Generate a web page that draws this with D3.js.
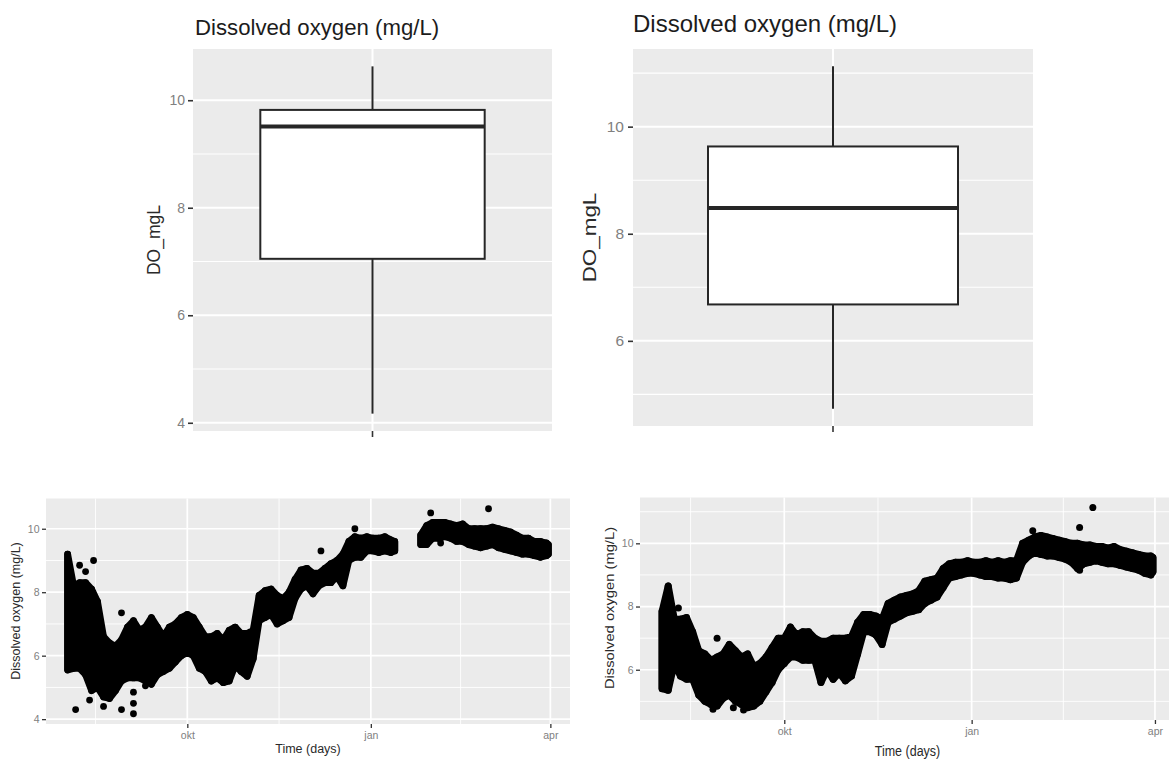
<!DOCTYPE html>
<html>
<head>
<meta charset="utf-8">
<script src="https://cdn.jsdelivr.net/npm/d3@7"></script>
<style>
  body { margin: 0; background: #ffffff; }
  svg { display: block; }
  text { font-family: "Liberation Sans", Arial, sans-serif; }
</style>
</head>
<body>
<svg id="chart" width="1169" height="760"></svg>
<script>
// ---- data ---------------------------------------------------------------
// Boxplot summaries (lower whisker, Q1, median, Q3, upper whisker), mg/L
const boxStatsA = [4.17, 7.05, 9.51, 9.82, 10.63];
const boxStatsB = [4.73, 6.68, 8.48, 9.63, 11.13];

// Time series: day offset from 1 Oct 2018, lowest and highest reading in that window
const daysA = [-60,-57,-54,-51,-48,-45,-42,-39,-36,-33,-30,-27,-24,-21,-18,-15,-12,-9,-6,-3,
  0,3,6,9,12,15,18,21,24,27,30,33,36,39,42,45,48,51,54,57,60,63,66,69,72,75,78,81,84,87,
  90,93,96,99,102,104,117,120,123,126,129,132,135,138,141,144,147,150,153,156,159,162,165,
  168,171,174,177,180,181];
const lowA = [5.55,5.6,5.6,5.4,4.9,5.0,4.7,4.65,4.9,5.2,5.3,5.3,5.3,5.2,5.1,5.4,5.5,5.6,5.8,6.0,
  6.1,6.0,5.6,5.5,5.2,5.3,5.15,5.2,5.7,5.5,5.35,5.9,7.1,7.2,7.3,7.0,7.1,7.2,7.8,8.1,8.2,7.95,
  8.2,8.3,8.3,8.5,8.2,9.0,9.1,9.1,9.3,9.3,9.25,9.3,9.25,9.3,9.5,9.5,9.7,9.7,9.75,9.7,9.6,9.6,
  9.5,9.45,9.4,9.45,9.5,9.4,9.35,9.3,9.25,9.2,9.2,9.15,9.1,9.15,9.2];
const highA = [9.2,8.2,8.3,8.3,8.1,7.7,6.6,6.4,6.3,6.5,6.9,7.1,6.8,6.9,7.2,6.9,6.6,6.9,7.0,7.2,
  7.3,7.2,6.9,6.6,6.6,6.7,6.5,6.8,6.9,6.7,6.7,6.8,7.9,8.05,8.1,7.9,7.8,8.0,8.4,8.7,8.75,8.6,
  8.6,8.75,8.9,9.0,9.2,9.6,9.75,9.7,9.75,9.7,9.7,9.75,9.65,9.6,9.8,10.1,10.2,10.2,10.2,10.15,
  10.1,10.15,10.0,10.0,10.0,10.0,10.05,10.0,9.95,9.9,9.8,9.7,9.7,9.6,9.6,9.55,9.5];
// isolated readings outside the dense band: [day offset, mg/L]
const singlesA = [[-56,4.3],[-54,8.85],[-51,8.65],[-49,4.6],[-47,9.0],[-42,4.4],[-33,7.35],
  [-33,4.3],[-27,4.85],[-27,4.5],[-27,4.17],[-21,5.05],[67,9.3],[84,10.0],[122,10.5],
  [127,9.55],[151,10.63]];

const daysB = [-60,-57,-54,-51,-48,-45,-42,-39,-36,-33,-30,-27,-24,-21,-18,-15,-12,-9,-6,-3,
  0,3,6,9,12,15,18,21,24,27,30,33,36,39,42,45,48,51,54,57,60,63,66,69,72,75,78,81,84,87,
  90,93,96,99,102,105,108,111,114,117,120,123,126,129,132,135,138,141,144,147,150,153,156,
  159,162,165,168,171,174,177,180,181];
const lowB = [5.4,5.35,6.2,5.8,5.7,5.7,5.2,5.0,4.9,4.85,5.1,5.2,5.0,4.9,4.8,4.85,5.0,5.3,5.6,6.0,
  6.2,6.4,6.4,6.3,6.3,6.3,5.6,6.0,5.7,5.9,5.65,5.8,6.5,7.2,7.2,7.1,6.8,7.5,7.6,7.7,7.8,7.85,
  7.9,8.1,8.2,8.3,8.6,8.9,8.95,9.0,9.05,9.05,9.0,8.95,8.95,8.9,8.9,8.85,8.9,9.4,9.6,9.7,9.65,
  9.6,9.6,9.55,9.5,9.4,9.2,9.35,9.4,9.45,9.4,9.35,9.35,9.3,9.25,9.2,9.15,9.05,9.0,9.1];
const highB = [7.85,8.65,7.6,7.6,7.65,7.2,6.6,6.5,6.3,6.4,6.5,6.8,6.6,6.4,6.5,6.1,6.2,6.4,6.7,7.0,
  7.0,7.35,7.1,7.2,7.2,7.0,6.9,6.9,7.0,7.0,7.0,7.05,7.5,7.75,7.75,7.7,7.6,8.1,8.2,8.3,8.35,8.4,
  8.5,8.8,8.85,8.9,9.2,9.35,9.4,9.4,9.45,9.4,9.4,9.45,9.4,9.45,9.4,9.45,9.45,10.0,10.1,10.2,
  10.25,10.2,10.15,10.1,10.05,10.0,10.0,9.95,9.95,9.9,9.9,9.85,9.9,9.8,9.75,9.7,9.65,9.6,9.6,9.55];
const singlesB = [[-52,7.95],[-33,7.0],[-35,4.75],[-25,4.8],[-20,4.73],[122,10.4],
  [145,10.5],[145,9.15],[151.5,11.13]];

// axis breaks and labels
const boxTicksA = [4, 6, 8, 10];
const boxTicksB = [6, 8, 10];
const timeTickDates = ["2018-10-01", "2019-01-01", "2019-04-01"];
const timeTickLabels = ["okt", "jan", "apr"];
const timeMinorDates = ["2018-08-16", "2018-11-16", "2019-02-15"];
const boxTitle = "Dissolved oxygen (mg/L)";
const boxYLabel = "DO_mgL";
const seriesYLabel = "Dissolved oxygen (mg/L)";
const seriesXLabel = "Time (days)";

// ---- helpers ------------------------------------------------------------
const svg = d3.select("#chart");
const PANEL = "#ebebeb";
const INK = "#262626";
const TICK_TEXT = "#808080";
const origin = Date.UTC(2018, 9, 1);
const dayToDate = d => new Date(origin + d * 864e5);
const parse = d3.utcParse("%Y-%m-%d");

function label(x, y, txt, o) {
  const t = `translate(${x},${y}) scale(${o.sx || 1},${o.sy || 1})` + (o.rotate ? ` rotate(${o.rotate})` : "");
  svg.append("text")
    .attr("transform", t)
    .attr("text-anchor", o.anchor || "start")
    .attr("font-size", o.size)
    .attr("fill", o.fill || INK)
    .text(txt);
}

function gridY(g, y, x0, x1, majors, minors, wMaj, wMin) {
  g.selectAll(null).data(minors).join("line")
    .attr("x1", x0).attr("x2", x1).attr("y1", d => y(d)).attr("y2", d => y(d))
    .attr("stroke", "#fff").attr("stroke-width", wMin);
  g.selectAll(null).data(majors).join("line")
    .attr("x1", x0).attr("x2", x1).attr("y1", d => y(d)).attr("y2", d => y(d))
    .attr("stroke", "#fff").attr("stroke-width", wMaj);
}

function styleAxis(sel, fontSize, tickW) {
  sel.select(".domain").remove();
  sel.selectAll(".tick line").attr("stroke", "#333").attr("stroke-width", tickW);
  sel.selectAll(".tick text").attr("fill", TICK_TEXT).attr("font-size", fontSize)
    .attr("font-family", '"Liberation Sans", Arial, sans-serif');
}

// ---- boxplot panel -------------------------------------------------------
function boxPanel(c) {
  const [lo, q1, med, q3, hi] = c.stats;
  const pad = (hi - lo) * 0.05;
  const y = d3.scaleLinear().domain([lo - pad, hi + pad]).range([c.bottom, c.top]);
  const x = d3.scaleBand().domain([boxYLabel]).range([c.left, c.right]).paddingOuter(0.3);
  const g = svg.append("g");
  g.append("rect").attr("x", c.left).attr("y", c.top)
    .attr("width", c.right - c.left).attr("height", c.bottom - c.top).attr("fill", PANEL);
  const majors = c.ticks;
  const minors = d3.range(Math.ceil(y.domain()[0]), y.domain()[1]).filter(v => v % 2 === 1);
  gridY(g, y, c.left, c.right, majors, minors, 2, 1.1);
  const cx = x(boxYLabel) + x.bandwidth() / 2;
  g.append("line").attr("x1", cx).attr("x2", cx).attr("y1", c.top).attr("y2", c.bottom)
    .attr("stroke", "#fff").attr("stroke-width", 2);

  // whiskers
  g.append("line").attr("x1", cx).attr("x2", cx).attr("y1", y(hi)).attr("y2", y(q3))
    .attr("stroke", INK).attr("stroke-width", 2);
  g.append("line").attr("x1", cx).attr("x2", cx).attr("y1", y(q1)).attr("y2", y(lo))
    .attr("stroke", INK).attr("stroke-width", 2);
  // box and median
  g.append("rect").attr("x", x(boxYLabel)).attr("y", y(q3))
    .attr("width", x.bandwidth()).attr("height", y(q1) - y(q3))
    .attr("fill", "#fff").attr("stroke", INK).attr("stroke-width", 2);
  g.append("line").attr("x1", x(boxYLabel)).attr("x2", x(boxYLabel) + x.bandwidth())
    .attr("y1", y(med)).attr("y2", y(med)).attr("stroke", INK).attr("stroke-width", 4);

  const ya = svg.append("g").attr("transform", `translate(${c.left},0)`)
    .call(d3.axisLeft(y).tickValues(c.ticks).tickSize(5).tickPadding(c.tickPad).tickFormat(d3.format("d")));
  styleAxis(ya, c.tickFont, 1.6);
  const xa = svg.append("g").attr("transform", `translate(0,${c.bottom})`)
    .call(d3.axisBottom(x).tickSize(6).tickFormat(() => ""));
  styleAxis(xa, c.tickFont, 1.6);

  label(c.left + c.titleDx, c.titleY, boxTitle, { size: c.titleSize, fill: "#1c1c1c" });
  label(c.ylabX, (c.top + c.bottom) / 2, boxYLabel,
        { size: c.ylabSize, rotate: -90, anchor: "middle", sy: c.ylabSy || 1, fill: "#2a2a2a" });
}

// ---- time series panel ---------------------------------------------------
function seriesPanel(c) {
  const cols = c.days.map((d, i) => ({ day: d, date: dayToDate(d), low: c.low[i], high: c.high[i] }));
  const dots = c.singles.map(([d, v]) => ({ date: dayToDate(d), v }));
  const dExt = d3.extent(c.days.concat(c.singles.map(s => s[0])));
  const dPad = (dExt[1] - dExt[0]) * 0.045;
  const vMin = d3.min([d3.min(c.low), d3.min(dots, d => d.v)]);
  const vMax = d3.max([d3.max(c.high), d3.max(dots, d => d.v)]);
  const vPad = (vMax - vMin) * 0.05;

  const x = d3.scaleUtc().domain([dayToDate(dExt[0] - dPad), dayToDate(dExt[1] + dPad)])
    .range([c.left, c.right]);
  const y = d3.scaleLinear().domain([vMin - vPad, vMax + vPad]).range([c.bottom, c.top]);

  const g = svg.append("g");
  g.append("rect").attr("x", c.left).attr("y", c.top)
    .attr("width", c.right - c.left).attr("height", c.bottom - c.top).attr("fill", PANEL);
  const majors = d3.range(Math.ceil(y.domain()[0]), y.domain()[1] + 1e-9).filter(v => v % 2 === 0);
  const minors = d3.range(Math.ceil(y.domain()[0]), y.domain()[1] + 1e-9).filter(v => v % 2 === 1);
  gridY(g, y, c.left, c.right, majors, minors, 1.7, 0.9);
  const xMaj = timeTickDates.map(parse), xMin = timeMinorDates.map(parse);
  g.selectAll(null).data(xMin).join("line")
    .attr("x1", d => x(d)).attr("x2", d => x(d)).attr("y1", c.top).attr("y2", c.bottom)
    .attr("stroke", "#fff").attr("stroke-width", 0.9);
  g.selectAll(null).data(xMaj).join("line")
    .attr("x1", d => x(d)).attr("x2", d => x(d)).attr("y1", c.top).attr("y2", c.bottom)
    .attr("stroke", "#fff").attr("stroke-width", 1.7);

  // split the record where logging paused (no readings for more than a week)
  const runs = [];
  cols.forEach((d, i) => {
    if (i === 0 || d.day - cols[i - 1].day > 7) runs.push([]);
    runs[runs.length - 1].push(d);
  });
  // envelope of the dense hourly readings, outlined by the dot radius
  const band = d3.area().x(d => x(d.date)).y0(d => y(d.low)).y1(d => y(d.high));
  g.selectAll(null).data(runs).join("path")
    .attr("d", band).attr("fill", "#000").attr("stroke", "#000")
    .attr("stroke-width", c.r * 2).attr("stroke-linejoin", "round");
  // each window's spread of readings
  g.selectAll(null).data(cols).join("line")
    .attr("x1", d => x(d.date)).attr("x2", d => x(d.date))
    .attr("y1", d => y(d.low)).attr("y2", d => y(d.high))
    .attr("stroke", "#000").attr("stroke-width", c.r * 2).attr("stroke-linecap", "round");
  g.selectAll(null).data(dots).join("circle")
    .attr("cx", d => x(d.date)).attr("cy", d => y(d.v)).attr("r", c.r).attr("fill", "#000");

  const ya = svg.append("g").attr("transform", `translate(${c.left},0)`)
    .call(d3.axisLeft(y).tickValues(majors).tickSize(4).tickPadding(2.5).tickFormat(d3.format("d")));
  styleAxis(ya, c.tickFont, 1.3);
  const xa = svg.append("g").attr("transform", `translate(0,${c.bottom})`)
    .call(d3.axisBottom(x).tickValues(xMaj).tickSize(4).tickPadding(4)
      .tickFormat((d, i) => timeTickLabels[i]));
  styleAxis(xa, c.tickFont, 1.3);

  label((c.left + c.right) / 2, c.xlabY, seriesXLabel,
        { size: c.labSize, anchor: "middle", sy: c.sy || 1, fill: "#2a2a2a" });
  label(c.ylabX, c.ylabY, seriesYLabel,
        { size: c.labSize, rotate: -90, anchor: "middle", sy: c.sy || 1, fill: "#2a2a2a" });
}

// ---- layout --------------------------------------------------------------
boxPanel({ stats: boxStatsA, ticks: boxTicksA, left: 193, right: 552, top: 49, bottom: 431,
  tickPad: 3, tickFont: 14, titleDx: 2, titleY: 35, titleSize: 22.2,
  ylabX: 160, ylabSize: 17.5 });
boxPanel({ stats: boxStatsB, ticks: boxTicksB, left: 633, right: 1033, top: 49, bottom: 426,
  tickPad: 4, tickFont: 15.5, titleDx: 0, titleY: 32, titleSize: 24,
  ylabX: 595.5, ylabSize: 19, ylabSy: 1.18 });

seriesPanel({ days: daysA, low: lowA, high: highA, singles: singlesA,
  left: 46, right: 570, top: 498.5, bottom: 724, r: 3.4, tickFont: 10.5,
  labSize: 12.5, xlabY: 753, ylabX: 19.7, ylabY: 611 });
seriesPanel({ days: daysB, low: lowB, high: highB, singles: singlesB,
  left: 640, right: 1175, top: 497.5, bottom: 720, r: 3.5, tickFont: 10.5,
  labSize: 12.5, sy: 1.18, xlabY: 756, ylabX: 614, ylabY: 608 });
</script>
</body>
</html>
